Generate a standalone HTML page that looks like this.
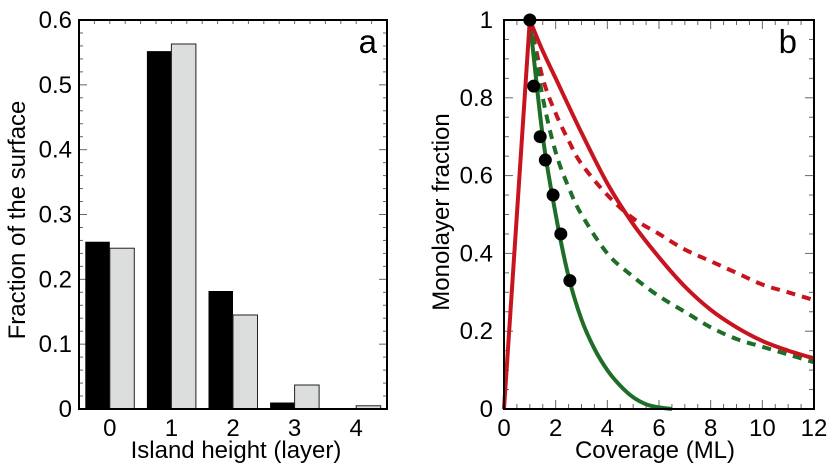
<!DOCTYPE html>
<html><head><meta charset="utf-8"><style>
html,body{margin:0;padding:0;background:#fff;}
svg{display:block;font-family:"Liberation Sans",Arial,sans-serif;}
</style></head><body>
<svg id="chart" width="829" height="468" viewBox="0 0 829 468">
<g id="pa"></g>
<g id="pb"></g>
</svg>
<script>
// Panel a data
const categoriesA = [0,1,2,3,4];
const seriesBlack = [0.258,0.552,0.182,0.010,0.0];
const seriesGray = [0.248,0.563,0.145,0.037,0.005];
const yTicksA = [0,0.1,0.2,0.3,0.4,0.5,0.6];
const yTickLabelsA = ["0","0.1","0.2","0.3","0.4","0.5","0.6"];
// Panel b data
const redSolidX = [0,1,1.5,2,3,4,5,6,7,8,9,10,11,12];
const redSolidY = [0,1,0.92,0.85,0.71,0.58,0.475,0.39,0.315,0.255,0.21,0.175,0.15,0.13];
const redDashX = [1,1.5,2,2.5,3,4,5,6,7,8,9,10,11,12];
const redDashY = [1,0.85,0.76,0.69,0.63,0.55,0.49,0.45,0.41,0.38,0.35,0.32,0.30,0.28];
const greenDashX = [1,1.5,2,2.5,3,4,5,6,7,8,9,10,11,12];
const greenDashY = [1,0.80,0.66,0.57,0.50,0.40,0.34,0.29,0.25,0.21,0.18,0.16,0.14,0.12];
const greenSolidX = [1,1.5,2,2.5,3,3.5,4,4.5,5,5.5,6,6.5];
const greenSolidY = [1,0.70,0.50,0.34,0.23,0.155,0.10,0.06,0.03,0.012,0.004,0];
const dotsX = [1,1.15,1.4,1.6,1.9,2.2,2.55];
const dotsY = [1,0.83,0.70,0.64,0.55,0.45,0.33];
const xTicksB = [0,2,4,6,8,10,12];
const yTicksB = [0,0.2,0.4,0.6,0.8,1];
const yTickLabelsB = ["0","0.2","0.4","0.6","0.8","1"];

const NS="http://www.w3.org/2000/svg";
function mk(parent,tag,attrs,text){const e=document.createElementNS(NS,tag);for(const k in attrs)e.setAttribute(k,attrs[k]);if(text!==undefined)e.textContent=text;parent.appendChild(e);return e;}
const FS=24;

// Panel A
const pa=document.getElementById('pa');
const aL=79,aR=387,aT=20,aB=409;
const xA=v=>aL+(v+0.5)/5*(aR-aL);
const yA=v=>aB-v/0.6*(aB-aT);
for(let v=0;v<=0.6001;v+=0.02){const y=yA(v);const major=Math.abs(v*10-Math.round(v*10))<1e-6;const len=major?8:4;
 mk(pa,'line',{x1:aL,x2:aL+len,y1:y,y2:y,stroke:'#666','stroke-width':1});
 mk(pa,'line',{x1:aR,x2:aR-len,y1:y,y2:y,stroke:'#666','stroke-width':1});}
for(let v=-0.5;v<=4.5;v+=0.25){const x=xA(v);mk(pa,'line',{x1:x,x2:x,y1:aT,y2:aT+4,stroke:'#666','stroke-width':1});}
categoriesA.forEach((c,i)=>{
 const cx=xA(c);
 const b=mk(pa,'rect',{x:cx-24.5,y:yA(seriesBlack[i]),width:24.5,height:aB-yA(seriesBlack[i]),fill:'#000'});
 
 
 const g=mk(pa,'rect',{x:cx,y:yA(seriesGray[i]),width:24.5,height:aB-yA(seriesGray[i]),fill:'#dcdddd',stroke:'#222','stroke-width':1});
 
 
 const t=mk(pa,'text',{x:cx,y:436,'font-size':FS,'text-anchor':'middle'},String(c));
 
 
});
yTicksA.forEach((v,i)=>{const t=mk(pa,'text',{x:72,y:yA(v)+8,'font-size':FS,'text-anchor':'end'},yTickLabelsA[i]);
 
 });
mk(pa,'rect',{x:aL,y:aT,width:aR-aL,height:aB-aT,fill:'none',stroke:'#000','stroke-width':2});
let t;
t=mk(pa,'text',{x:236,y:458,'font-size':FS,'text-anchor':'middle'},'Island height (layer)');

t=mk(pa,'text',{x:0,y:0,'font-size':FS,'text-anchor':'middle',transform:'translate(25,220) rotate(-90)'},'Fraction of the surface');

t=mk(pa,'text',{x:377,y:53,'font-size':33,'text-anchor':'end'},'a');


// Panel B
const pb=document.getElementById('pb');
const bL=504,bR=814,bT=20,bB=409;
const xB=v=>bL+v/12*(bR-bL);
const yB=v=>bB-v*(bB-bT);
for(let v=0;v<=1.0001;v+=0.05){const y=yB(v);const major=Math.abs(v*5-Math.round(v*5))<1e-6;const len=major?9:5;
 mk(pb,'line',{x1:bL,x2:bL+len,y1:y,y2:y,stroke:'#666','stroke-width':1});
 mk(pb,'line',{x1:bR,x2:bR-len,y1:y,y2:y,stroke:'#666','stroke-width':1});}
for(let v=0;v<=12.001;v+=0.5){const x=xB(v);const major=Math.abs(v/2-Math.round(v/2))<1e-6;const len=major?9:5;
 mk(pb,'line',{x1:x,x2:x,y1:bB,y2:bB-len,stroke:'#666','stroke-width':1});
 mk(pb,'line',{x1:x,x2:x,y1:bT,y2:bT+len,stroke:'#666','stroke-width':1});}
// smooth path (Catmull-Rom), keeping corners at given breakpoints
function path(xs,ys,corner){const P=xs.map((x,i)=>[xB(x),yB(ys[i])]);let d='M'+P[0][0].toFixed(1)+','+P[0][1].toFixed(1);
 for(let i=0;i<P.length-1;i++){
  if(corner!==undefined && i<corner){d+=' L'+P[i+1][0].toFixed(1)+','+P[i+1][1].toFixed(1);continue;}
  const p0=(corner!==undefined&&i===corner)?P[i]:(P[i-1]||P[i]),p1=P[i],p2=P[i+1],p3=P[i+2]||p2;
  const c1=[p1[0]+(p2[0]-p0[0])/6,p1[1]+(p2[1]-p0[1])/6],c2=[p2[0]-(p3[0]-p1[0])/6,p2[1]-(p3[1]-p1[1])/6];
  d+=' C'+c1.map(v=>v.toFixed(1))+' '+c2.map(v=>v.toFixed(1))+' '+p2[0].toFixed(1)+','+p2[1].toFixed(1);}
 return d;}
let p;
p=mk(pb,'path',{d:path(redDashX,redDashY,0),fill:'none',stroke:'#c8141e','stroke-width':4,'stroke-dasharray':'9,7'});

p=mk(pb,'path',{d:path(greenDashX,greenDashY,0),fill:'none',stroke:'#1e6e28','stroke-width':4,'stroke-dasharray':'9,7'});

p=mk(pb,'path',{d:path(greenSolidX,greenSolidY,0),fill:'none',stroke:'#1e6e28','stroke-width':4});

p=mk(pb,'path',{d:path(redSolidX,redSolidY,1),fill:'none',stroke:'#c8141e','stroke-width':4,'stroke-linejoin':'round'});

dotsX.forEach((x,i)=>{const c=mk(pb,'circle',{cx:xB(x),cy:yB(dotsY[i]),r:6.5,fill:'#000'});
 
 });
xTicksB.forEach(v=>{const t=mk(pb,'text',{x:xB(v),y:436,'font-size':FS,'text-anchor':'middle'},String(v));
 
 });
yTicksB.forEach((v,i)=>{const t=mk(pb,'text',{x:493,y:yB(v)+8,'font-size':FS,'text-anchor':'end'},yTickLabelsB[i]);
 
 });
mk(pb,'rect',{x:bL,y:bT,width:bR-bL,height:bB-bT,fill:'none',stroke:'#000','stroke-width':2});
t=mk(pb,'text',{x:655,y:458,'font-size':FS,'text-anchor':'middle'},'Coverage (ML)');

t=mk(pb,'text',{x:0,y:0,'font-size':FS,'text-anchor':'middle',transform:'translate(449,212) rotate(-90)'},'Monolayer fraction');

t=mk(pb,'text',{x:797,y:53,'font-size':33,'text-anchor':'end'},'b');

</script>
</body></html>
